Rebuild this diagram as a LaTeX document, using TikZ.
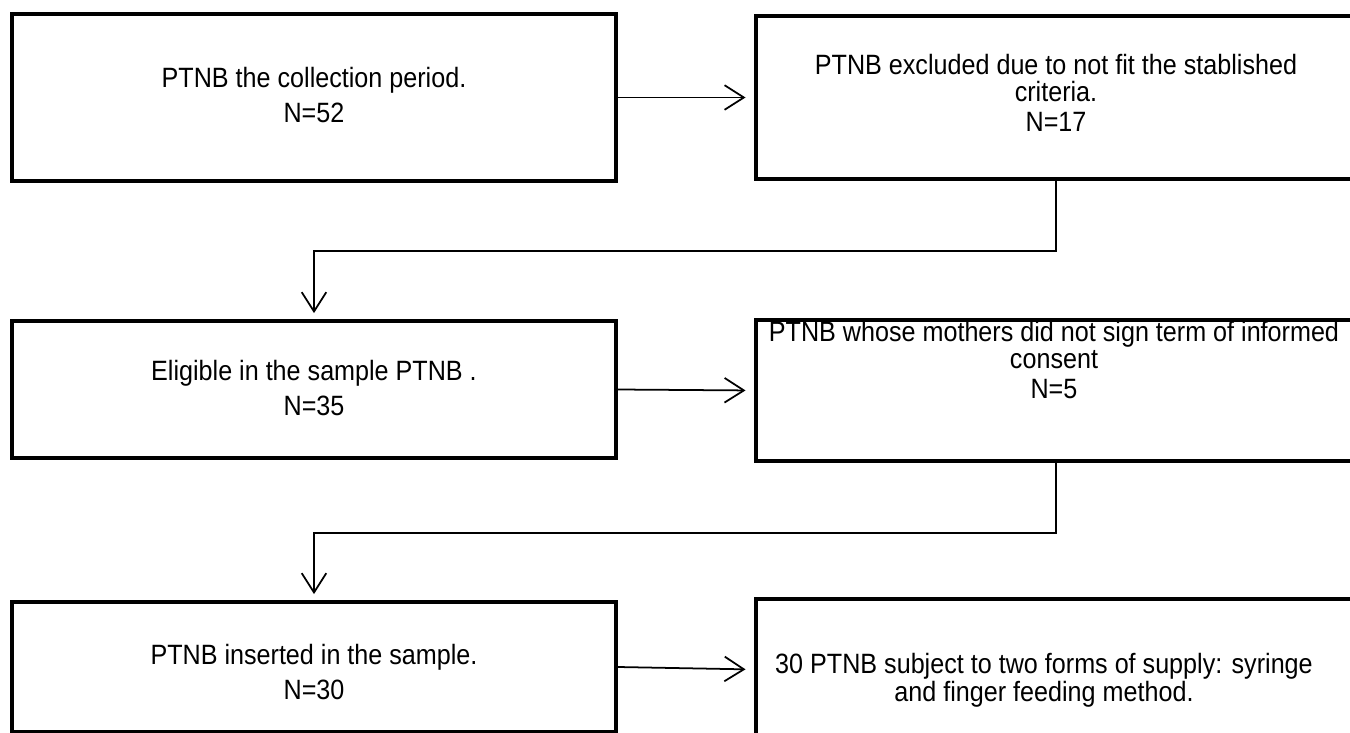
\documentclass[tikz,border=0pt]{standalone}
\usepackage{fontspec}
\setmainfont{Liberation Sans}[FakeStretch=0.9]
\usetikzlibrary{arrows.meta,calc,positioning}
\tikzset{
  lbox/.style={draw,rectangle,line width=2pt,minimum width=12.08cm,inner sep=0pt},
  rbox/.style={draw,rectangle,line width=2pt,minimum width=12cm,inner sep=0pt},
  txt/.style={align=center,inner sep=0pt,font=\fontsize{15.9pt}{15.4pt}\selectfont},
  conn/.style={->,line width=1pt,shorten >=3.5pt}
}

\begin{document}
\begin{tikzpicture}[x=0.02cm,y=-0.02cm,>={Straight Barb[length=11pt,width=14pt]}]
  \useasboundingbox (0,0) rectangle (1350,733);
  \clip (0,0) rectangle (1350,733);
  \node[lbox,minimum height=3.34cm] (b1) at (314,97.5) {};
  \node[rbox,minimum height=3.26cm] (b2) at (1056,97.5) {};
  \node[lbox,minimum height=2.74cm] (b3) at (314,389.5) {};
  \node[rbox,minimum height=2.82cm] (b4) at (1056,390.5) {};
  \node[lbox,minimum height=2.6cm] (b5) at (314,667) {};
  \node[rbox,minimum height=2.82cm] (b6) at (1056,669.5) {};
  % texts
  \node[txt] (t1) at (314,95) {PTNB the collection period.\\[5pt]N=52};
  \node[txt] (t2) at (1056,93) {PTNB excluded due to not fit the stablished\\criteria.\\[2pt]N=17};
  \node[txt] (t3) at (314,388) {Eligible in the sample PTNB .\\[5pt]N=35};
  \node[txt] (t4) at (1054,360) {PTNB whose mothers did not sign term of informed\\consent\\[2pt]N=5};
  \node[txt] (t5) at (314,672) {PTNB inserted in the sample.\\[5pt]N=30};
  \node[txt,font=\fontsize{15.9pt}{13.5pt}\selectfont] (t6) at (1044,680) {30 PTNB subject to two forms of supply: syringe\\and finger feeding method.};
  \coordinate (k1) at (314,251);
  \coordinate (k2) at (314,533);
  \draw[conn,shorten >=5pt] (b1.east) -- (b2.west);
  \draw[conn,shorten >=5pt] (b3.east) -- (b4.west);
  \draw[conn,shorten >=5pt] (b5.east) -- (b6.west);
  \draw[conn] (b2.south) |- (k1) -- (b3.north);
  \draw[conn] (b4.south) |- (k2) -- (b5.north);
\end{tikzpicture}
\end{document}
